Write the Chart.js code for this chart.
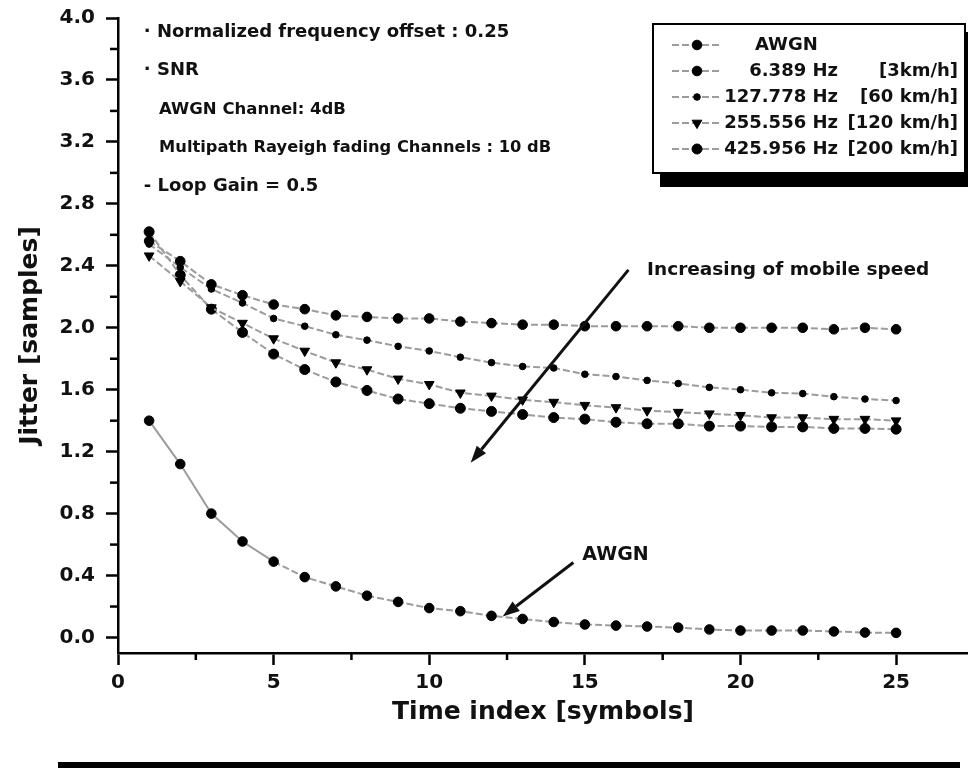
<!DOCTYPE html>
<html><head><meta charset="utf-8">
<script src="https://cdn.jsdelivr.net/npm/chart.js@4.4.1/dist/chart.umd.min.js"></script>
<style>html,body{margin:0;padding:0;background:#fff;} canvas{display:block;}</style>
</head><body>
<canvas id="c" width="968" height="768"></canvas>
<script>
// ---- data ----
const timeIndex = [1,2,3,4,5,6,7,8,9,10,11,12,13,14,15,16,17,18,19,20,21,22,23,24,25];
const awgn  = [1.40,1.12,0.80,0.62,0.49,0.39,0.33,0.27,0.23,0.19,0.17,0.14,0.12,0.10,0.084,0.077,0.071,0.064,0.052,0.045,0.045,0.045,0.039,0.032,0.030];
const hz6   = [2.56,2.43,2.28,2.21,2.15,2.12,2.08,2.07,2.06,2.06,2.04,2.03,2.02,2.02,2.01,2.01,2.01,2.01,2.00,2.00,2.00,2.00,1.99,2.00,1.99];
const hz127 = [2.54,2.39,2.25,2.16,2.06,2.01,1.955,1.92,1.88,1.85,1.81,1.775,1.75,1.74,1.70,1.685,1.66,1.64,1.615,1.60,1.58,1.575,1.555,1.54,1.53];
const hz255 = [2.465,2.30,2.13,2.03,1.93,1.85,1.775,1.73,1.67,1.635,1.58,1.56,1.535,1.52,1.50,1.485,1.465,1.455,1.445,1.435,1.42,1.42,1.41,1.41,1.40];
const hz425 = [2.62,2.34,2.12,1.97,1.83,1.73,1.65,1.595,1.54,1.51,1.48,1.46,1.44,1.42,1.41,1.39,1.38,1.38,1.365,1.365,1.36,1.36,1.35,1.35,1.345];
const freqLabels  = ['AWGN','6.389 Hz','127.778 Hz','255.556 Hz','425.956 Hz'];
const speedLabels = ['','[3km/h]','[60 km/h]','[120 km/h]','[200 km/h]'];
const xTickValues = [0,5,10,15,20,25];
const yTickValues = [0,0.4,0.8,1.2,1.6,2.0,2.4,2.8,3.2,3.6,4.0];
const xMinorValues = [2.5,7.5,12.5,17.5,22.5];
const yMinorValues = [0.2,0.6,1.0,1.4,1.8,2.2,2.6,3.0,3.4,3.8];
const infoLines = [
  {text:'\u00b7 Normalized frequency offset : 0.25', x:0.83, y:3.91, size:18},
  {text:'\u00b7 SNR', x:0.83, y:3.665, size:18},
  {text:'AWGN Channel: 4dB', x:1.32, y:3.405, size:16.5},
  {text:'Multipath Rayeigh fading Channels : 10 dB', x:1.32, y:3.165, size:16.3},
  {text:'- Loop Gain = 0.5', x:0.83, y:2.91, size:18}
];
const arrowNotes = [
  {text:'Increasing of mobile speed', tx:17.0, ty:2.37, size:18.5, x0:16.40, y0:2.374, x1:11.33, y1:1.129},
  {text:'AWGN', tx:14.92, ty:0.535, size:19, x0:14.63, y0:0.484, x1:12.36, y1:0.135}
];

const FONT = '"DejaVu Sans", "Liberation Sans", Arial, sans-serif';
const LINE_GRAY = '#9c9c9c';
const pts = arr => timeIndex.map((t,i)=>({x:t, y:arr[i]}));

function mkSet(label, arr, style, radius, rotation) {
  return {
    label, data: pts(arr),
    borderColor: LINE_GRAY, borderWidth: 2, borderDash: [7,3],
    pointStyle: style, pointRadius: radius, pointRotation: rotation || 0,
    pointBackgroundColor: '#000', pointBorderColor: '#000', pointBorderWidth: 1,
    fill: false, tension: 0
  };
}
const datasets = [
  mkSet(freqLabels[0], awgn, 'circle', 4.8),
  mkSet(freqLabels[1], hz6, 'circle', 4.8),
  mkSet(freqLabels[2], hz127, 'circle', 3.3),
  mkSet(freqLabels[3], hz255, 'triangle', 5.6, 180),
  mkSet(freqLabels[4], hz425, 'circle', 5.0)
];
datasets[0].segment = { borderDash: c => c.p0DataIndex < 4 ? [] : undefined };

function drawMarker(ctx, ds, x, y) {
  const H = Chart.helpers;
  const opts = {pointStyle: ds.pointStyle, radius: ds.pointRadius, rotation: ds.pointRotation, borderWidth: ds.pointBorderWidth};
  ctx.save();
  ctx.fillStyle = ds.pointBackgroundColor; ctx.strokeStyle = ds.pointBorderColor; ctx.lineWidth = ds.pointBorderWidth;
  if (H && H.drawPoint) { H.drawPoint(ctx, opts, x, y); }
  else { ctx.beginPath(); ctx.arc(x, y, ds.pointRadius, 0, Math.PI*2); ctx.fill(); }
  ctx.restore();
}

function arrow(ctx, x0, y0, x1, y1) {
  const ang = Math.atan2(y1-y0, x1-x0);
  const L = 17, W = 6;
  const bx = x1 - L*Math.cos(ang), by = y1 - L*Math.sin(ang);
  ctx.save();
  ctx.strokeStyle = '#111'; ctx.fillStyle = '#111'; ctx.lineWidth = 3;
  ctx.beginPath(); ctx.moveTo(x0,y0); ctx.lineTo(bx,by); ctx.stroke();
  ctx.beginPath();
  ctx.moveTo(x1,y1);
  ctx.lineTo(bx + W*Math.sin(ang), by - W*Math.cos(ang));
  ctx.lineTo(bx - W*Math.sin(ang), by + W*Math.cos(ang));
  ctx.closePath(); ctx.fill();
  ctx.restore();
}

const decor = {
  id: 'decor',
  beforeDraw(chart) {
    const ctx = chart.ctx;
    ctx.save(); ctx.fillStyle = '#fff'; ctx.fillRect(0,0,chart.width,chart.height); ctx.restore();
  },
  afterDraw(chart) {
    const ctx = chart.ctx, xs = chart.scales.x, ys = chart.scales.y;
    const ca = chart.chartArea;
    ctx.save();
    // minor ticks
    ctx.strokeStyle = '#000'; ctx.lineWidth = 2.5;
    yMinorValues.forEach(v => { const p = ys.getPixelForValue(v); ctx.beginPath(); ctx.moveTo(ca.left-8,p); ctx.lineTo(ca.left,p); ctx.stroke(); });
    xMinorValues.forEach(v => { const p = xs.getPixelForValue(v); ctx.beginPath(); ctx.moveTo(p,ca.bottom); ctx.lineTo(p,ca.bottom+7); ctx.stroke(); });
    // info text
    ctx.fillStyle = '#111'; ctx.textBaseline = 'middle'; ctx.textAlign = 'left';
    infoLines.forEach(l => { ctx.font = 'bold ' + l.size + 'px ' + FONT; ctx.fillText(l.text, xs.getPixelForValue(l.x), ys.getPixelForValue(l.y)); });
    // arrows with notes
    arrowNotes.forEach(a => {
      arrow(ctx, xs.getPixelForValue(a.x0), ys.getPixelForValue(a.y0), xs.getPixelForValue(a.x1), ys.getPixelForValue(a.y1));
      ctx.font = 'bold ' + a.size + 'px ' + FONT; ctx.fillStyle = '#111';
      ctx.fillText(a.text, xs.getPixelForValue(a.tx), ys.getPixelForValue(a.ty));
    });
    // legend box
    const bx0 = 653, by0 = 24, bx1 = 965, by1 = 173;
    ctx.fillStyle = '#000'; ctx.fillRect(660, 32, 330, 155);
    ctx.fillStyle = '#fff'; ctx.fillRect(bx0, by0, bx1-bx0, by1-by0);
    ctx.strokeStyle = '#000'; ctx.lineWidth = 2; ctx.strokeRect(bx0, by0, bx1-bx0, by1-by0);
    const rows = [45, 71, 97, 123, 149];
    ctx.font = 'bold 18px ' + FONT; ctx.textBaseline = 'middle';
    chart.data.datasets.forEach((ds, i) => {
      const y = rows[i];
      ctx.save(); ctx.strokeStyle = ds.borderColor; ctx.lineWidth = 2; ctx.setLineDash([7,3]);
      ctx.beginPath(); ctx.moveTo(672, y); ctx.lineTo(722, y); ctx.stroke(); ctx.restore();
      drawMarker(ctx, ds, 697, y);
      ctx.fillStyle = '#111';
      if (i === 0) { ctx.textAlign = 'left'; ctx.fillText(freqLabels[i], 755, y); }
      else {
        ctx.textAlign = 'right'; ctx.fillText(freqLabels[i], 838, y);
        ctx.fillText(speedLabels[i], 958, y);
      }
    });
    // bottom black band
    ctx.fillStyle = '#000'; ctx.fillRect(58, 762, 902, 6);
    ctx.restore();
  }
};

new Chart(document.getElementById('c'), {
  type: 'line',
  data: { datasets },
  options: {
    responsive: false, animation: false, devicePixelRatio: 1,
    layout: { autoPadding: false, padding: { top: 18, right: 0, left: 0, bottom: 0 } },
    plugins: { legend: { display: false }, tooltip: { enabled: false } },
    scales: {
      x: {
        type: 'linear', min: 0, max: 27.31,
        afterBuildTicks: s => { s.ticks = xTickValues.map(v => ({value: v})); },
        afterFit: s => { s.height = 115; s.paddingLeft = 0; s.paddingRight = 0; },
        grid: { drawOnChartArea: false, drawTicks: true, tickLength: 12, tickColor: '#000', tickWidth: 2.5 },
        border: { color: '#000', width: 2.5 },
        ticks: { color: '#111', padding: 6, font: { family: FONT, size: 20, weight: 'bold' }, maxRotation: 0, autoSkip: false },
        title: { display: true, text: 'Time index [symbols]', color: '#111', font: { family: FONT, size: 25, weight: 'bold' }, padding: { top: 0, bottom: 41 } }
      },
      y: {
        type: 'linear', min: -0.1, max: 4.0,
        afterBuildTicks: s => { s.ticks = yTickValues.map(v => ({value: v})); },
        afterFit: s => { s.width = 118; s.paddingTop = 0; s.paddingBottom = 0; },
        grid: { drawOnChartArea: false, drawTicks: true, tickLength: 12, tickColor: '#000', tickWidth: 2.5 },
        border: { color: '#000', width: 2.5 },
        ticks: { color: '#111', padding: 11, font: { family: FONT, size: 20, weight: 'bold' }, callback: v => Number(v).toFixed(1), autoSkip: false },
        title: { display: true, text: 'Jitter [samples]', color: '#111', font: { family: FONT, size: 25, weight: 'bold' }, padding: { top: 15, bottom: 0 } }
      }
    }
  },
  plugins: [decor]
});
</script>
</body></html>
